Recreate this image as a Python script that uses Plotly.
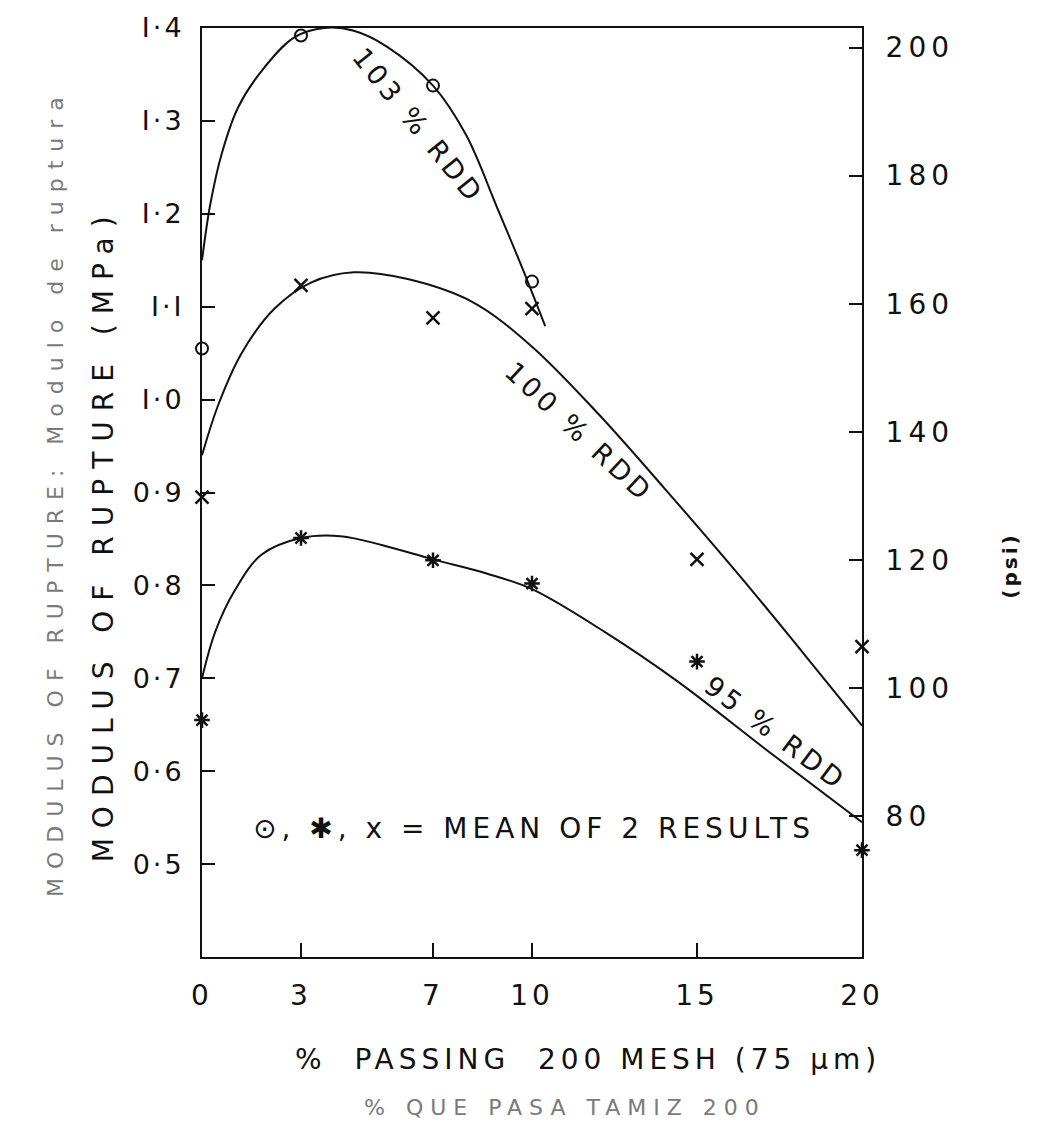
import plotly.graph_objects as go

# ---- data ----
pct_passing = [0, 3, 7, 10, 15, 20]

rdd103_x = [0, 3, 7, 10]
rdd103_y = [1.055, 1.392, 1.338, 1.127]

rdd100_x = [0, 3, 7, 10, 15, 20]
rdd100_y = [0.895, 1.123, 1.088, 1.098, 0.828, 0.734]

rdd95_x = [0, 3, 7, 10, 15, 20]
rdd95_y = [0.655, 0.851, 0.827, 0.802, 0.718, 0.515]

# hand-drawn fitted curves
fit103_x = [0, 0.25, 0.6, 1.1, 1.9, 2.8, 3.7, 4.6, 5.6, 7.0, 8.0, 8.94, 9.85, 10.4]
fit103_y = [1.15, 1.21, 1.265, 1.315, 1.358, 1.39, 1.40, 1.397, 1.38, 1.338, 1.285, 1.207, 1.129, 1.079]

fit100_x = [0, 0.5, 1.2, 2.2, 3.3, 4.6, 6.2, 8.2, 10.0, 12.0, 14.0, 16.3, 18.2, 20]
fit100_y = [0.94, 0.995, 1.05, 1.098, 1.126, 1.137, 1.13, 1.105, 1.057, 0.985, 0.905, 0.81, 0.728, 0.649]

fit95_x = [0, 0.4, 1.0, 1.8, 3.0, 4.2, 5.5, 7.0, 8.6, 10.0, 12.2, 14.4, 17.25, 20]
fit95_y = [0.70, 0.75, 0.795, 0.833, 0.851, 0.853, 0.843, 0.828, 0.813, 0.796, 0.75, 0.697, 0.619, 0.545]

mpa_ticks = [0.5, 0.6, 0.7, 0.8, 0.9, 1.0, 1.1, 1.2, 1.3, 1.4]
mpa_labels = ["0·5", "0·6", "0·7", "0·8", "0·9", "I·0", "I·I", "I·2", "I·3", "I·4"]
psi_ticks = [80, 100, 120, 140, 160, 180, 200]
psi_labels = ["80", "100", "120", "140", "160", "180", "200"]
x_labels = ["0", "3", "7", "10", "15", "20"]
MPA_TO_PSI = 145.04
y_range = [0.4, 1.4]

FONT = "DejaVu Sans"
BLACK = "#111111"
GRAY = "#7a7a7a"


def spaced(text, px):
    return f"<span style='letter-spacing:{px}px'>{text}</span>"


fig = go.Figure()

for fx, fy in [(fit103_x, fit103_y), (fit100_x, fit100_y), (fit95_x, fit95_y)]:
    fig.add_trace(go.Scatter(x=fx, y=fy, mode="lines",
                             line=dict(color=BLACK, width=2, shape="spline", smoothing=1.0),
                             showlegend=False, hoverinfo="skip", cliponaxis=False))

fig.add_trace(go.Scatter(x=rdd103_x, y=rdd103_y, mode="markers", name="103 % RDD",
                         marker=dict(symbol="circle-open", size=12, color=BLACK, line=dict(width=2)),
                         showlegend=False, cliponaxis=False))
fig.add_trace(go.Scatter(x=rdd100_x, y=rdd100_y, mode="markers", name="100 % RDD",
                         marker=dict(symbol="x-thin-open", size=13, color=BLACK, line=dict(width=2.5)),
                         showlegend=False, cliponaxis=False))
fig.add_trace(go.Scatter(x=rdd95_x, y=rdd95_y, mode="markers", name="95 % RDD",
                         marker=dict(symbol="asterisk-open", size=13, color=BLACK, line=dict(width=2.5)),
                         showlegend=False, cliponaxis=False))

# invisible trace to activate the psi axis
fig.add_trace(go.Scatter(x=[0], y=[100], yaxis="y2", mode="markers",
                         marker=dict(opacity=0), showlegend=False, hoverinfo="skip"))

fig.update_layout(
    width=1037, height=1128,
    margin=dict(l=202, r=175, t=19, b=171),
    paper_bgcolor="white", plot_bgcolor="white",
    font=dict(family=FONT, color=BLACK, size=26),
    xaxis=dict(range=[0, 20], tickmode="array", tickvals=pct_passing,
               ticktext=[spaced(t, 4) for t in x_labels],
               ticks="inside", ticklen=14, tickwidth=2, tickcolor=BLACK,
               showline=True, linecolor=BLACK, linewidth=2, mirror=True,
               showgrid=False, zeroline=False, tickfont=dict(size=28),
               ticklabelstandoff=12),
    yaxis=dict(range=y_range, tickmode="array", tickvals=mpa_ticks,
               ticktext=[spaced(t, 3) for t in mpa_labels],
               ticks="inside", ticklen=13, tickwidth=2, tickcolor=BLACK,
               showline=True, linecolor=BLACK, linewidth=2,
               showgrid=False, zeroline=False, tickfont=dict(size=27),
               ticklabelstandoff=10),
    yaxis2=dict(range=[y_range[0] * MPA_TO_PSI, y_range[1] * MPA_TO_PSI], overlaying="y", side="right",
                tickmode="array", tickvals=psi_ticks,
                ticktext=[spaced(t, 5) for t in psi_labels],
                ticks="inside", ticklen=13, tickwidth=2, tickcolor=BLACK,
                showline=True, linecolor=BLACK, linewidth=2,
                showgrid=False, zeroline=False, tickfont=dict(size=28),
                ticklabelstandoff=16),
)

ann = []
# curve labels
ann.append(dict(x=6.55, y=1.295, xref="x", yref="y", text=spaced("103 % RDD", 4), textangle=51,
                showarrow=False, font=dict(size=27)))
ann.append(dict(x=11.45, y=0.965, xref="x", yref="y", text=spaced("100 % RDD", 4), textangle=43,
                showarrow=False, font=dict(size=27)))
ann.append(dict(x=17.4, y=0.641, xref="x", yref="y", text=spaced("95 % RDD", 4), textangle=37,
                showarrow=False, font=dict(size=27)))
ann.append(dict(x=10.06, y=0.538, xref="x", yref="y", text=spaced("⊙, ✱, x = MEAN OF 2 RESULTS", 5),
                showarrow=False, font=dict(size=28)))
# axis titles
ann.append(dict(x=-0.15, y=0.455, xref="paper", yref="paper",
                text=spaced("MODULUS OF RUPTURE (MPa)", 10),
                textangle=-90, showarrow=False, xanchor="center", yanchor="middle",
                font=dict(size=28)))
ann.append(dict(x=-0.222, y=0.50, xref="paper", yref="paper",
                text=spaced("MODULUS OF RUPTURE: Modulo de ruptura", 9),
                textangle=-90, showarrow=False, xanchor="center", yanchor="middle",
                font=dict(size=22, color=GRAY)))
ann.append(dict(x=1.224, y=0.421, xref="paper", yref="paper", text=spaced("<b>(psi)</b>", 3),
                textangle=-90, showarrow=False, xanchor="center", yanchor="middle",
                font=dict(size=20)))
ann.append(dict(x=0.585, y=-0.11, xref="paper", yref="paper",
                text=spaced("%  PASSING  200 MESH (75 μm)", 5),
                showarrow=False, xanchor="center", yanchor="middle", font=dict(size=28)))
ann.append(dict(x=0.55, y=-0.162, xref="paper", yref="paper",
                text=spaced("% QUE PASA TAMIZ 200", 7),
                showarrow=False, xanchor="center", yanchor="middle",
                font=dict(size=22, color=GRAY)))
fig.update_layout(annotations=ann)

fig.write_html("out.html")
